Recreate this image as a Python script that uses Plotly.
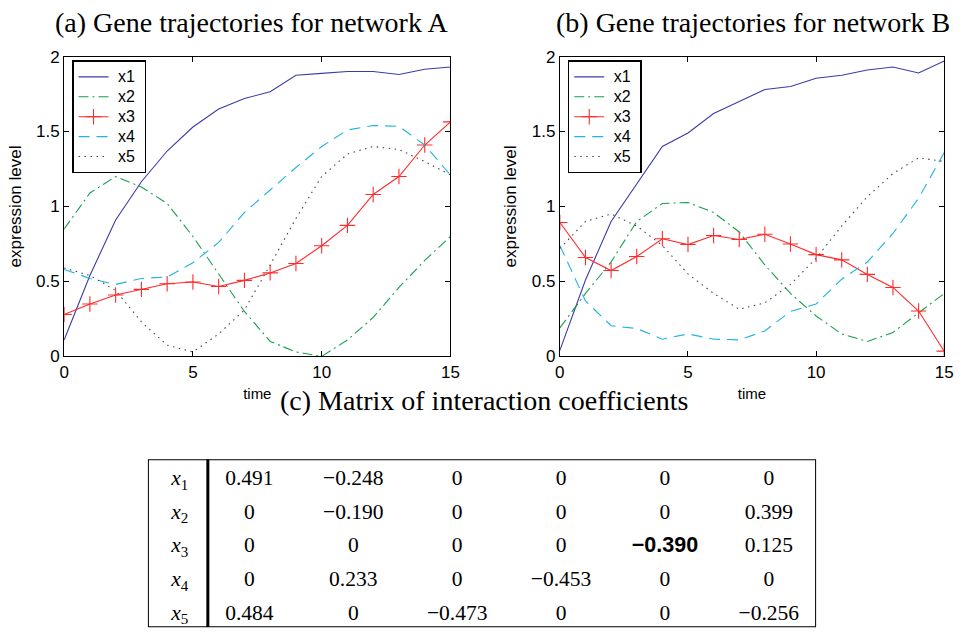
import plotly.graph_objects as go

# ---------------- data ----------------
time = list(range(16))
series_names = ["x1", "x2", "x3", "x4", "x5"]

# network A
a_x1 = [0.11, 0.54, 0.91, 1.165, 1.37, 1.53, 1.65, 1.72, 1.765, 1.875, 1.888, 1.90, 1.90, 1.88, 1.915, 1.93]
a_x2 = [0.85, 1.09, 1.20, 1.13, 1.02, 0.80, 0.55, 0.30, 0.10, 0.03, 0.0, 0.11, 0.26, 0.46, 0.64, 0.80]
a_x3 = [0.28, 0.35, 0.41, 0.447, 0.485, 0.496, 0.466, 0.507, 0.557, 0.62, 0.738, 0.874, 1.08, 1.20, 1.41, 1.564]
a_x4 = [0.58, 0.52, 0.48, 0.52, 0.53, 0.625, 0.76, 0.96, 1.11, 1.26, 1.40, 1.51, 1.54, 1.535, 1.41, 1.21]
a_x5 = [0.59, 0.54, 0.44, 0.23, 0.075, 0.03, 0.15, 0.31, 0.61, 0.92, 1.20, 1.35, 1.40, 1.38, 1.30, 1.21]

# network B
b_x1 = [0.04, 0.51, 0.90, 1.15, 1.40, 1.49, 1.62, 1.70, 1.78, 1.80, 1.855, 1.875, 1.91, 1.93, 1.89, 1.97]
b_x2 = [0.19, 0.42, 0.63, 0.90, 1.02, 1.027, 0.96, 0.83, 0.61, 0.42, 0.27, 0.15, 0.10, 0.16, 0.29, 0.42]
b_x3 = [0.893, 0.66, 0.573, 0.666, 0.785, 0.746, 0.806, 0.78, 0.815, 0.75, 0.679, 0.644, 0.547, 0.46, 0.303, 0.035]
b_x4 = [0.74, 0.37, 0.205, 0.186, 0.115, 0.15, 0.115, 0.11, 0.17, 0.30, 0.35, 0.515, 0.63, 0.82, 1.055, 1.36]
b_x5 = [0.72, 0.90, 0.95, 0.87, 0.74, 0.55, 0.42, 0.315, 0.357, 0.48, 0.655, 0.87, 1.066, 1.22, 1.325, 1.30]

y_ticks = [0, 0.5, 1, 1.5, 2]
y_ticktext = ["0", "0.5", "1", "1.5", "2"]
x_ticks = [0, 5, 10, 15]

row_labels = ["<i>x</i><sub>1</sub>", "<i>x</i><sub>2</sub>", "<i>x</i><sub>3</sub>",
              "<i>x</i><sub>4</sub>", "<i>x</i><sub>5</sub>"]
coef = [
    [0.491, -0.248, 0, 0, 0, 0],
    [0, -0.190, 0, 0, 0, 0.399],
    [0, 0, 0, 0, -0.390, 0.125],
    [0, 0.233, 0, -0.453, 0, 0],
    [0.484, 0, -0.473, 0, 0, -0.256],
]
highlight_cell = (2, 4)  # row, col shown in bold

titles = ["(a) Gene trajectories for network A",
          "(b) Gene trajectories for network B",
          "(c) Matrix of interaction coefficients"]

# ---------------- styling ----------------
W, H = 968, 643
SERIF = "Liberation Serif, Times New Roman, serif"
SANS = "Liberation Sans, Arial, Helvetica, sans-serif"

styles = {
    "x1": dict(line=dict(color="#3c3ca8", width=1.1), mode="lines"),
    "x2": dict(line=dict(color="#14a04c", width=1.1, dash="10px,4px,2px,4px"), mode="lines"),
    "x3": dict(line=dict(color="#ff2a2a", width=1.1), mode="lines+markers",
               marker=dict(symbol="cross-thin", size=11, line=dict(color="#ff2a2a", width=1.1))),
    "x4": dict(line=dict(color="#1cb4e0", width=1.1, dash="11px,7px"), mode="lines"),
    "x5": dict(line=dict(color="#444444", width=1.1, dash="1.5px,4.5px"), mode="lines"),
}

def px_x(p):
    return min(1.0, max(0.0, p / W))

def px_y(p):
    return min(1.0, max(0.0, 1 - p / H))

fig = go.Figure()

data_sets = [
    ("x", "y", "legend", [a_x1, a_x2, a_x3, a_x4, a_x5]),
    ("x2", "y2", "legend2", [b_x1, b_x2, b_x3, b_x4, b_x5]),
]
for xa, ya, leg, arrs in data_sets:
    for name, vals in zip(series_names, arrs):
        st = styles[name]
        label = f'<span style="font-size:16px">\u00a0{name}\u00a0</span>'
        kw = dict(x=time, y=vals, name=label,
                  xaxis=xa, yaxis=ya, legend=leg,
                  mode=st["mode"], line=st["line"], hoverinfo="skip")
        if "marker" in st:
            kw["marker"] = st["marker"]
        fig.add_trace(go.Scatter(**kw))

# ---------------- table ----------------
label_col = 0.33
tx, ty, ttext, tfam = [], [], [], []
for r, row in enumerate(coef):
    for c, v in enumerate(row):
        if v == 0:
            s = "0"
        else:
            s = f"{v:.3f}".replace("-", "\u2212")
        bold = (r, c) == highlight_cell
        tx.append(c + 1)
        ty.append(r + 1)
        ttext.append(f"<b>{s}</b>" if bold else s)
        tfam.append(SANS if bold else SERIF)
fig.add_trace(go.Scatter(x=tx, y=ty, text=ttext, mode="text", xaxis="x3", yaxis="y3",
                         textfont=dict(family=tfam, size=21.5, color="black"),
                         showlegend=False, hoverinfo="skip"))
fig.add_trace(go.Scatter(x=[label_col] * len(row_labels), y=list(range(1, len(row_labels) + 1)),
                         text=row_labels, mode="text", xaxis="x3", yaxis="y3",
                         textfont=dict(family=SERIF, size=21.5, color="black"),
                         showlegend=False, hoverinfo="skip"))

tab_top_px, tab_bot_px = 464, 637
row_px0, row_step = 485, 34.75
tab_x_range = [0.023, 6.455]
tab_y_range = [1 + (tab_bot_px - row_px0) / row_step, 1 - (row_px0 - tab_top_px) / row_step]
sep_x = 0.60

fig.add_shape(type="rect", xref="x3", yref="y3", x0=tab_x_range[0], x1=tab_x_range[1],
              y0=tab_y_range[1], y1=tab_y_range[0], line=dict(color="black", width=2))
fig.add_shape(type="line", xref="x3", yref="y3", x0=sep_x, x1=sep_x,
              y0=tab_y_range[1], y1=tab_y_range[0], line=dict(color="black", width=3))

# ---------------- axes ----------------
ax_common = dict(showline=True, linecolor="black", linewidth=1, mirror="ticks",
                 ticks="inside", ticklen=5, tickcolor="black", tickwidth=1,
                 showgrid=False, zeroline=False,
                 tickfont=dict(family=SANS, size=17, color="black"))
xdom1 = [px_x(60), px_x(452)]
xdom2 = [px_x(563), px_x(953)]
ydom = [px_y(358), px_y(49)]

xt = dict(text="time", font=dict(family=SANS, size=15, color="black"), standoff=7)
yt = dict(text="expression level", font=dict(family=SANS, size=17, color="black"), standoff=10)

fig.update_layout(
    xaxis=dict(domain=xdom1, range=[0, 15], tickvals=x_ticks, anchor="y", title=xt, **ax_common),
    yaxis=dict(domain=ydom, range=[0, 2], tickvals=y_ticks, ticktext=y_ticktext, anchor="x",
               title=yt, **ax_common),
    xaxis2=dict(domain=xdom2, range=[0, 15], tickvals=x_ticks, anchor="y2", title=xt, **ax_common),
    yaxis2=dict(domain=ydom, range=[0, 2], tickvals=y_ticks, ticktext=y_ticktext, anchor="x2",
                title=yt, **ax_common),
    xaxis3=dict(domain=[px_x(145), px_x(823)], range=tab_x_range, visible=False, anchor="y3"),
    yaxis3=dict(domain=[px_y(tab_bot_px), px_y(tab_top_px)], range=tab_y_range, visible=False,
                anchor="x3"),
)

legend_common = dict(bgcolor="white", bordercolor="black", borderwidth=1.5,
                     font=dict(family=SANS, size=13, color="black"),
                     xanchor="left", yanchor="top", tracegroupgap=0, itemwidth=30)
fig.update_layout(
    legend=dict(x=px_x(68), y=px_y(53), **legend_common),
    legend2=dict(x=px_x(571), y=px_y(53), **legend_common),
)

# titles
title_pos = [(250, 14), (759, 14), (486, 403)]
for txt, (cx, cy) in zip(titles, title_pos):
    fig.add_annotation(text=txt, x=px_x(cx), y=px_y(cy), xref="paper", yref="paper",
                       showarrow=False, xanchor="center", yanchor="middle",
                       font=dict(family=SERIF, size=28, color="black"))

fig.update_layout(width=W, height=H, margin=dict(l=0, r=0, t=0, b=0),
                  paper_bgcolor="white", plot_bgcolor="white", showlegend=True)

fig.write_html("out.html")
